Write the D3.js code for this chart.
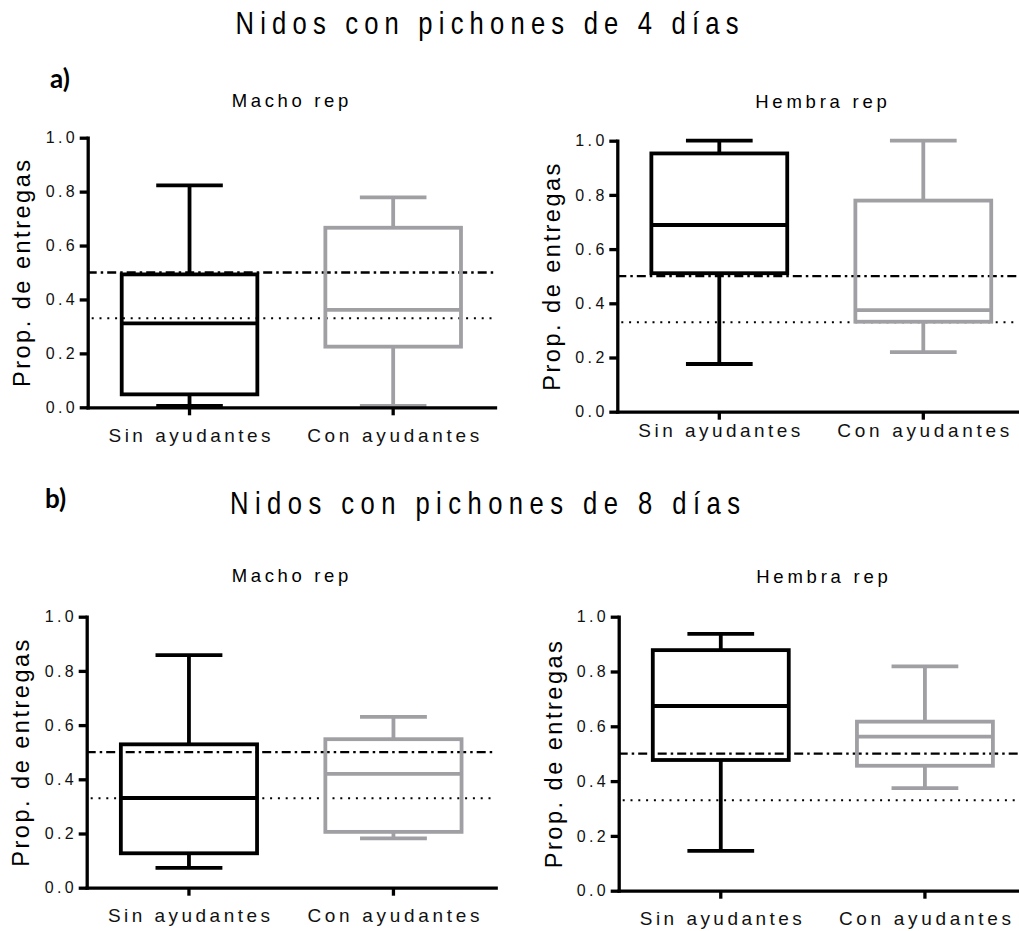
<!DOCTYPE html>
<html>
<head>
<meta charset="utf-8">
<script src="https://cdn.jsdelivr.net/npm/d3@7"></script>
<style>
  html, body { margin: 0; padding: 0; background: #ffffff; }
  svg { display: block; }
</style>
</head>
<body>
<svg id="chart" width="1019" height="931"></svg>
<script>
// Categories on the x axis
const groups = ["Sin ayudantes", "Con ayudantes"];

// Five-number summaries: [min, Q1, median, Q3, max]
const macho4Sin  = [0.005, 0.048, 0.311, 0.493, 0.823];
const macho4Con  = [0.005, 0.225, 0.361, 0.666, 0.779];
const hembra4Sin = [0.176, 0.511, 0.689, 0.953, 1.000];
const hembra4Con = [0.220, 0.332, 0.375, 0.779, 1.000];
const macho8Sin  = [0.073, 0.127, 0.331, 0.529, 0.858];
const macho8Con  = [0.182, 0.206, 0.420, 0.548, 0.630];
const hembra8Sin = [0.145, 0.477, 0.674, 0.878, 0.937];
const hembra8Con = [0.374, 0.456, 0.562, 0.617, 0.819];

// Y axis ticks and reference proportions
const yTicks = [0, 0.2, 0.4, 0.6, 0.8, 1.0];
const halfLine = 0.5;     // dash-dot reference
const thirdLine = 0.33;   // dotted reference

// Titles
const sectionTitles = ["Nidos con pichones de 4 días", "Nidos con pichones de 8 días"];
const sectionLetters = ["a)", "b)"];
const panelTitles = ["Macho rep", "Hembra rep", "Macho rep", "Hembra rep"];
const yTitle = "Prop. de entregas";

const panelData = [
  [macho4Sin, macho4Con],
  [hembra4Sin, hembra4Con],
  [macho8Sin, macho8Con],
  [hembra8Sin, hembra8Con]
];

// Panel geometry (plot area corners, label placement)
const layout = [
  { left: 87.7,  right: 495.0,  top: 137.7, bottom: 407.3, xLab: 34.4, yTitleX: 30.0,  subX: 290.0, subY: 106.7 },
  { left: 617.3, right: 1025.3, top: 140.7, bottom: 411.7, xLab: 25.6, yTitleX: 560.0, subX: 821.0, subY: 107.7 },
  { left: 86.7,  right: 495.7,  top: 616.7, bottom: 887.7, xLab: 34.0, yTitleX: 29.3,  subX: 290.0, subY: 581.7 },
  { left: 618.7, right: 1027.0, top: 616.7, bottom: 890.7, xLab: 34.3, yTitleX: 561.7, subX: 822.0, subY: 582.7 }
];

const colors = ["#000000", "#a0a0a4"];
const FONT = "'Liberation Sans', Arial, Helvetica, sans-serif";

const svg = d3.select("#chart");

// Letter-spaced text, fitted to a given width
function spaced(sel, str, opts) {
  const g = sel.append("g")
    .attr("transform", `translate(${opts.x},${opts.y})` + (opts.rotate ? ` rotate(${opts.rotate})` : "") + (opts.sx ? ` scale(${opts.sx},1)` : ""));
  const t = g.append("text")
    .attr("x", 0).attr("y", 0)
    .attr("text-anchor", opts.anchor || "middle")
    .attr("font-family", opts.family || FONT)
    .attr("font-size", opts.size)
    .attr("font-weight", opts.weight || "normal")
    .attr("fill", opts.fill || "#000")
    .text(str);
  if (opts.width) {
    t.attr("textLength", opts.width / (opts.sx || 1)).attr("lengthAdjust", "spacing");
  }
  return t;
}

// Section titles and letters
spaced(svg, sectionTitles[0], { x: 487, y: 34, size: 32, sx: 0.8, width: 503 });
spaced(svg, sectionTitles[1], { x: 485, y: 514, size: 32, sx: 0.8, width: 510 });
spaced(svg, sectionLetters[0], { x: 50, y: 88, size: 26, anchor: "start", weight: 700, family: "Lato, 'Open Sans', sans-serif" });
spaced(svg, sectionLetters[1], { x: 45, y: 508, size: 26, anchor: "start", weight: 700, family: "Lato, 'Open Sans', sans-serif" });

panelData.forEach((boxes, i) => {
  const L = layout[i];
  const g = svg.append("g");

  const x = d3.scaleBand().domain(groups).range([L.left, L.right]).padding(0);
  const y = d3.scaleLinear().domain([0, 1]).range([L.bottom, L.top]);
  const bw = x.bandwidth();
  const boxW = bw * 0.666;
  const capW = bw * 0.327;

  // Panel title
  spaced(g, panelTitles[i], { x: L.subX, y: L.subY, size: 18.5, width: i % 2 ? 131.7 : 116.6 });

  // Y axis title
  spaced(g, yTitle, { x: L.yTitleX, y: (L.top + L.bottom) / 2 + 1, size: 23.5, rotate: -90, width: 227 });

  // Reference lines
  g.append("line")
    .attr("x1", L.left).attr("x2", L.right)
    .attr("y1", y(halfLine)).attr("y2", y(halfLine))
    .attr("stroke", "#000").attr("stroke-width", 2.3)
    .attr("stroke-dasharray", "9,4,2.5,4");
  g.append("line")
    .attr("x1", L.left + 4).attr("x2", L.right)
    .attr("y1", y(thirdLine)).attr("y2", y(thirdLine))
    .attr("stroke", "#000").attr("stroke-width", 2)
    .attr("stroke-dasharray", "2,5.8");

  // Boxes and whiskers
  groups.forEach((grp, k) => {
    const s = boxes[k];
    const cx = x(grp) + bw / 2;
    const col = colors[k];
    const bg = g.append("g").attr("stroke", col).attr("stroke-width", 3.8).attr("fill", "none");
    // whiskers
    bg.append("line").attr("x1", cx).attr("x2", cx).attr("y1", y(s[0])).attr("y2", y(s[1]));
    bg.append("line").attr("x1", cx).attr("x2", cx).attr("y1", y(s[3])).attr("y2", y(s[4]));
    // caps
    bg.append("line").attr("x1", cx - capW / 2).attr("x2", cx + capW / 2).attr("y1", y(s[0])).attr("y2", y(s[0]));
    bg.append("line").attr("x1", cx - capW / 2).attr("x2", cx + capW / 2).attr("y1", y(s[4])).attr("y2", y(s[4]));
    // box
    bg.append("rect")
      .attr("x", cx - boxW / 2).attr("width", boxW)
      .attr("y", y(s[3])).attr("height", y(s[1]) - y(s[3]));
    // median
    bg.append("line").attr("x1", cx - boxW / 2).attr("x2", cx + boxW / 2).attr("y1", y(s[2])).attr("y2", y(s[2]));
  });

  // Y axis
  const ya = g.append("g")
    .attr("transform", `translate(${L.left},0)`)
    .call(d3.axisLeft(y).tickValues(yTicks).tickFormat(d3.format(".1f")).tickSize(8).tickSizeOuter(0).tickPadding(5));
  ya.select(".domain").attr("stroke", "#000").attr("stroke-width", 3.3).attr("stroke-linecap", "square");
  ya.selectAll(".tick line").attr("stroke", "#000").attr("stroke-width", 3.3);
  ya.selectAll(".tick text")
    .attr("font-family", FONT).attr("font-size", 16).attr("fill", "#111")
    .attr("textLength", 29).attr("lengthAdjust", "spacing");

  // X axis
  const xa = g.append("g")
    .attr("transform", `translate(0,${L.bottom})`)
    .call(d3.axisBottom(x).tickSize(8).tickSizeOuter(0).tickPadding(L.xLab - 8 - 13.5));
  xa.select(".domain").attr("stroke", "#000").attr("stroke-width", 3.3).attr("stroke-linecap", "square");
  xa.selectAll(".tick line").attr("stroke", "#000").attr("stroke-width", 3.3);
  xa.selectAll(".tick text")
    .attr("font-family", FONT).attr("font-size", 19).attr("fill", "#111")
    .attr("textLength", d => d === groups[0] ? 162 : 172).attr("lengthAdjust", "spacing");
  ya.attr("font-size", null); xa.attr("font-size", null);
});
</script>
</body>
</html>
